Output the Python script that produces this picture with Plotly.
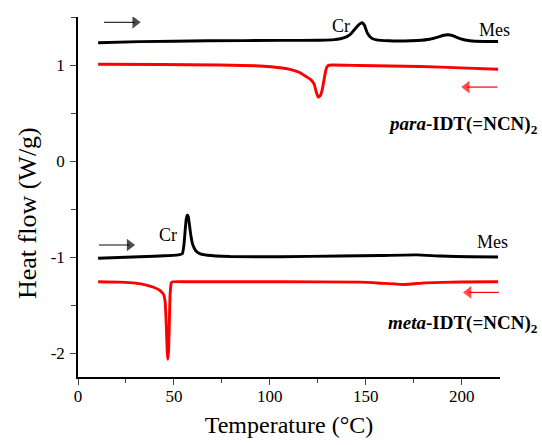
import plotly.graph_objects as go

# ---- data ----
para_heat_T = [10.5, 32, 67.6, 105.3, 126.3, 133.6, 138.9, 142, 144.6, 146.7, 148.1, 149.3, 150.9, 153, 155.6, 162, 170, 177, 183.4, 187.6, 190.7, 192.8, 195.4, 199.1, 204.3, 212, 219]
para_heat_hf = [1.232, 1.243, 1.252, 1.256, 1.258, 1.264, 1.285, 1.32, 1.38, 1.425, 1.44, 1.415, 1.33, 1.28, 1.262, 1.252, 1.25, 1.255, 1.268, 1.29, 1.31, 1.315, 1.305, 1.275, 1.252, 1.245, 1.245]

para_cool_T = [10.5, 42.5, 73.9, 94.8, 105.3, 110.5, 115.3, 118.9, 121.5, 123.1, 124.2, 125.2, 126.3, 127.3, 128.3, 129.4, 130.4, 132.5, 147.2, 178.6, 199.5, 219]
para_cool_hf = [1.008, 1.005, 1.0, 0.99, 0.972, 0.955, 0.925, 0.88, 0.845, 0.8, 0.72, 0.665, 0.68, 0.74, 0.85, 0.96, 0.995, 1.0, 0.995, 0.985, 0.97, 0.955]

meta_heat_T = [10.5, 32, 47.7, 53.0, 54.4, 55.2, 55.8, 56.4, 57.0, 57.5, 58.0, 58.8, 59.8, 61.4, 63.5, 67.6, 79.1, 105.3, 136.7, 157.7, 176.5, 189.1, 204.8, 219]
meta_heat_hf = [-1.013, -0.998, -0.985, -0.975, -0.965, -0.88, -0.74, -0.61, -0.5625, -0.58, -0.65, -0.77, -0.87, -0.935, -0.965, -0.982, -0.995, -0.997, -0.99, -0.985, -0.978, -0.99, -0.998, -1.0]

meta_cool_T = [10.5, 21.6, 29.9, 35.2, 39.4, 42.5, 44.6, 45.4, 46.0, 46.5, 46.8, 47.2, 47.6, 48.0, 48.6, 49.3, 58.2, 105.3, 147.2, 159.8, 170.2, 180.7, 199.5, 219]
meta_cool_hf = [-1.258, -1.262, -1.272, -1.29, -1.315, -1.345, -1.39, -1.46, -1.7, -1.98, -2.066, -1.98, -1.7, -1.4, -1.27, -1.258, -1.258, -1.258, -1.262, -1.275, -1.286, -1.27, -1.26, -1.258]

x_ticks = [0, 50, 100, 150, 200]
x_minor = [25, 75, 125, 175]
y_ticks = [-2, -1, 0, 1]
y_ticktext = ["-2", "-1", "0", "1"]
y_minor = [-1.5, -0.5, 0.5, 1.5]

# direction arrows: (tail T, head T, heat flow level, colour, head symbol)
arrow_specs = [
    (13.5, 29.8, 1.445, "black", "triangle-right"),
    (218.7, 202.7, 0.77, "#ff0000", "triangle-left"),
    (10.9, 26.9, -0.875, "black", "triangle-right"),
    (219.4, 203.6, -1.369, "#ff0000", "triangle-left"),
]

FONT = "Liberation Serif"

fig = go.Figure()
for T, hf, col in [(para_heat_T, para_heat_hf, "black"),
                   (para_cool_T, para_cool_hf, "#ff0000"),
                   (meta_heat_T, meta_heat_hf, "black"),
                   (meta_cool_T, meta_cool_hf, "#ff0000")]:
    fig.add_trace(go.Scatter(x=T, y=hf, mode="lines",
                             line=dict(color=col, width=2.9, shape="spline", smoothing=0.4),
                             hoverinfo="skip", showlegend=False))

for t0, t1, lvl, col, sym in arrow_specs:
    fig.add_trace(go.Scatter(x=[t0, t1], y=[lvl, lvl], mode="lines+markers",
                             line=dict(color="#333333" if col == "black" else col, width=1.2),
                             marker=dict(symbol=["circle", sym], size=[0, 11], color=col,
                                         line=dict(width=0)),
                             hoverinfo="skip", showlegend=False))

labels = [
    ("Cr", 137.2, 1.408),
    ("Mes", 217.0, 1.365),
    ("Cr", 46.9, -0.77),
    ("Mes", 216.0, -0.84),
]
for t, x, y in labels:
    fig.add_annotation(x=x, y=y, xref="x", yref="y", text=t, showarrow=False,
                       xanchor="center", font=dict(family=FONT, size=18, color="black"))

fig.add_annotation(x=1.094, y=0.38, xref="paper", yref="y", xanchor="right", showarrow=False,
                   text="<b><i>para</i>-IDT(=NCN)<sub>2</sub></b>",
                   font=dict(family=FONT, size=19, color="black"))
fig.add_annotation(x=1.094, y=-1.70, xref="paper", yref="y", xanchor="right", showarrow=False,
                   text="<b><i>meta</i>-IDT(=NCN)<sub>2</sub></b>",
                   font=dict(family=FONT, size=19, color="black"))

# y-axis title
fig.add_annotation(x=-0.118, y=0.456, xref="paper", yref="paper", textangle=-90,
                   xanchor="center", yanchor="middle", showarrow=False,
                   text="Heat flow (W/g)", font=dict(family=FONT, size=26, color="black"))

fig.update_layout(
    width=542, height=445,
    margin=dict(l=78, r=42, t=17, b=68),
    plot_bgcolor="white", paper_bgcolor="white",
    font=dict(family=FONT, color="black", size=17),
    showlegend=False,
)
fig.update_xaxes(range=[0, 220], tickvals=x_ticks, ticks="outside", ticklen=6, tickwidth=1.3,
                 showline=True, linecolor="black", linewidth=1.5, showgrid=False, zeroline=False,
                 tickfont=dict(family=FONT, size=17), ticklabelstandoff=-3,
                 minor=dict(tickvals=x_minor, ticks="outside", ticklen=4, tickwidth=1.3),
                 title=dict(text="Temperature (°C)", font=dict(family=FONT, size=24), standoff=11))
fig.update_yaxes(range=[-2.25, 1.5], tickvals=y_ticks, ticktext=y_ticktext, ticks="outside",
                 ticklen=6, tickwidth=1.3,
                 showline=True, linecolor="black", linewidth=1.5, showgrid=False, zeroline=False,
                 tickfont=dict(family=FONT, size=17), ticklabelstandoff=2,
                 minor=dict(tickvals=y_minor, ticks="outside", ticklen=5, tickwidth=1.3))

fig.write_html("out.html", config={"displayModeBar": False},
               post_script="document.body.style.margin='0';")
